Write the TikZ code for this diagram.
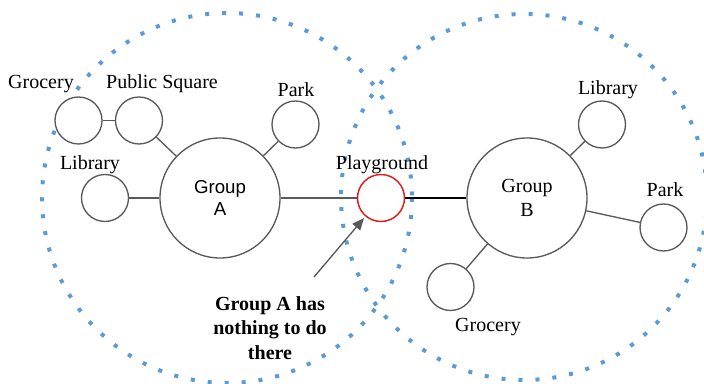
\documentclass[tikz,border=0pt]{standalone}
\usepackage{fontspec}
\setmainfont{Liberation Serif}
\newfontfamily\arialfont{Liberation Sans}
\usetikzlibrary{arrows.meta}
\definecolor{dotblue}{RGB}{91,155,213}
\definecolor{linegray}{RGB}{89,89,89}
\definecolor{pgred}{RGB}{224,30,30}
\tikzset{
  zone/.style={draw=dotblue, line width=3pt, dash pattern=on 3pt off 9.75pt},
  small/.style={circle, draw=linegray, line width=1pt, fill=white, minimum size=35.25pt, inner sep=0pt},
  group/.style={circle, draw=linegray, line width=1pt, fill=white, minimum size=90pt, inner sep=0pt, align=center},
  redc/.style={circle, draw=pgred, line width=1.1pt, fill=white, minimum size=35.25pt, inner sep=0pt},
  lbl/.style={font=\fontsize{15}{18}\selectfont, inner sep=0pt},
  conn/.style={draw=linegray, line width=1pt},
  note/.style={font=\fontsize{15}{18.4}\selectfont\bfseries, align=center, inner sep=0pt},
  pointer/.style={draw=linegray, line width=1pt, -{Triangle[length=9pt,width=7.5pt]}, shorten >=1.5pt},
}
\begin{document}
\begin{tikzpicture}[x=0.75pt,y=-0.75pt]
\useasboundingbox (0,0) rectangle (704,384);
% zones
\draw[zone] (227,198) circle [radius=185];
\draw[zone] (524,197) circle [radius=183];
% nodes
\node[group, font=\arialfont\fontsize{14}{16.5}\selectfont] (ga) at (220,198) {Group\\A};
\node[group, font=\fontsize{15}{18}\selectfont] (gb) at (527,198) {Group\\B};
\node[redc] (pg) at (381,198) {};
\node[small] (groa) at (78.5,120.5) {};
\node[small] (psq) at (139,120.5) {};
\node[small] (parka) at (295.5,124.5) {};
\node[small] (liba) at (105,198) {};
\node[small] (libb) at (602,124.5) {};
\node[small] (parkb) at (663.5,227.5) {};
\node[small] (grob) at (450.5,287) {};
% labels
\node[lbl] (tgroa) at (41,84) {Grocery};
\node[lbl] (tpsq) at (162,84) {Public Square};
\node[lbl] (tparka) at (296,90) {Park};
\node[lbl] (tliba) at (90,165) {Library};
\node[lbl] (tpg) at (382,165) {Playground};
\node[lbl] (tlibb) at (608,90) {Library};
\node[lbl] (tparkb) at (665,190) {Park};
\node[lbl] (tgrob) at (488,327) {Grocery};
\node[note] (note) at (270,328) {Group A has\\nothing to do\\there};
% connectors
\draw[conn] (groa) -- (psq);
\draw[conn] (psq) -- (ga);
\draw[conn] (parka) -- (ga);
\draw[conn] (liba) -- (ga);
\draw[conn] (ga) -- (pg);
\draw[draw=black, line width=1.1pt] (pg) -- (gb);
\draw[conn] (gb) -- (libb);
\draw[conn] (gb) -- (parkb);
\draw[conn] (gb) -- (grob);
\coordinate (arrstart) at (314,277);
\draw[pointer] (arrstart) -- (pg);
\end{tikzpicture}
\end{document}
